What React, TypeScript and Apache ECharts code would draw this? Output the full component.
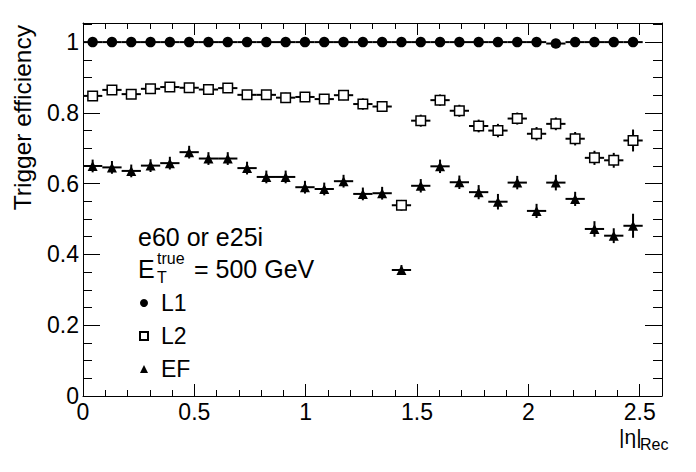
import React, { useEffect, useRef } from "react";
import * as echarts from "echarts";

// |eta| bin centres (30 bins of width 2.6/30, last bin empty)
const binCenters = [
  0.0433, 0.13, 0.2167, 0.3033, 0.39, 0.4767, 0.5633, 0.65, 0.7367, 0.8233,
  0.91, 0.9967, 1.0833, 1.17, 1.2567, 1.3433, 1.43, 1.5167, 1.6033, 1.69,
  1.7767, 1.8633, 1.95, 2.0367, 2.1233, 2.21, 2.2967, 2.3833, 2.47,
];
const binHalfWidth = 0.0433;

const l1Values = [
  1, 1, 1, 1, 1, 1, 1, 1, 1, 1, 1, 1, 1, 1, 1, 1, 1, 1, 1, 1, 1, 1, 1, 1,
  0.996, 1, 1, 1, 1,
];
const l1Errors = [
  0.001, 0.001, 0.001, 0.001, 0.001, 0.001, 0.001, 0.001, 0.001, 0.001,
  0.001, 0.001, 0.001, 0.001, 0.001, 0.001, 0.001, 0.001, 0.001, 0.001,
  0.001, 0.001, 0.001, 0.001, 0.002, 0.001, 0.001, 0.001, 0.001,
];

const l2Values = [
  0.848, 0.865, 0.853, 0.868, 0.873, 0.871, 0.866, 0.87, 0.851, 0.851,
  0.843, 0.845, 0.839, 0.85, 0.825, 0.818, 0.539, 0.778, 0.836, 0.806,
  0.763, 0.75, 0.784, 0.741, 0.769, 0.727, 0.673, 0.666, 0.722,
];
const l2Errors = [
  0.013, 0.013, 0.013, 0.013, 0.013, 0.013, 0.013, 0.013, 0.013, 0.013,
  0.014, 0.014, 0.014, 0.014, 0.016, 0.015, 0.015, 0.017, 0.016, 0.017,
  0.018, 0.019, 0.017, 0.019, 0.018, 0.019, 0.02, 0.021, 0.031,
];

const efValues = [
  0.65, 0.646, 0.636, 0.651, 0.658, 0.689, 0.671, 0.671, 0.644, 0.619,
  0.619, 0.59, 0.585, 0.607, 0.571, 0.573, 0.356, 0.594, 0.649, 0.604,
  0.576, 0.549, 0.603, 0.523, 0.603, 0.557, 0.472, 0.453, 0.481,
];
const efErrors = [
  0.018, 0.018, 0.018, 0.018, 0.018, 0.018, 0.018, 0.018, 0.018, 0.018,
  0.018, 0.018, 0.018, 0.018, 0.018, 0.018, 0.014, 0.019, 0.019, 0.019,
  0.02, 0.022, 0.019, 0.02, 0.022, 0.02, 0.022, 0.021, 0.034,
];

const xMin = 0;
const xMax = 2.6;
const xMajor = 0.5;
const xMinor = 0.1;
const yMin = 0;
const yMax = 1.054;
const yMajor = 0.2;
const yMinor = 0.05;

const FONT = '"Liberation Sans", Arial, Helvetica, sans-serif';

function errData(values: number[], errors: number[]) {
  return values.map((v, i) => [binCenters[i], v, binHalfWidth, errors[i]]);
}
function ptData(values: number[]) {
  return values.map((v, i) => [binCenters[i], v]);
}

const errRender = (params: any, api: any) => {
  const x = api.value(0);
  const y = api.value(1);
  const ex = api.value(2);
  const ey = api.value(3);
  const pL = api.coord([x - ex, y]);
  const pR = api.coord([x + ex, y]);
  const pB = api.coord([x, y - ey]);
  const pT = api.coord([x, y + ey]);
  const st = { stroke: "#000", lineWidth: 2 };
  return {
    type: "group",
    children: [
      { type: "line", shape: { x1: pL[0], y1: pL[1], x2: pR[0], y2: pR[1] }, style: st },
      { type: "line", shape: { x1: pB[0], y1: pB[1], x2: pT[0], y2: pT[1] }, style: st },
    ],
  };
};

function xAxisDef(position: string, interval: number, len: number, labels: boolean, line: boolean) {
  return {
    type: "value",
    position,
    min: xMin,
    max: xMax,
    interval,
    axisLine: { show: line, onZero: false, lineStyle: { color: "#000", width: 1 } },
    axisTick: { show: true, inside: true, length: len, lineStyle: { color: "#000", width: 1 } },
    axisLabel: {
      show: labels,
      margin: 4,
      color: "#000",
      fontSize: 23,
      fontFamily: FONT,
      showMaxLabel: false,
    },
    splitLine: { show: false },
  };
}
function yAxisDef(position: string, interval: number, len: number, labels: boolean, line: boolean) {
  return {
    type: "value",
    position,
    min: yMin,
    max: yMax,
    interval,
    axisLine: { show: line, onZero: false, lineStyle: { color: "#000", width: 1 } },
    axisTick: { show: true, inside: true, length: len, lineStyle: { color: "#000", width: 1 } },
    axisLabel: {
      show: labels,
      margin: 4,
      color: "#000",
      fontSize: 23,
      fontFamily: FONT,
      showMaxLabel: false,
    },
    splitLine: { show: false },
  };
}

function txt(x: number, y: number, text: string, size: number, lh: number) {
  return {
    type: "text",
    x,
    y,
    style: {
      text,
      fontSize: size,
      lineHeight: lh,
      fontFamily: FONT,
      fill: "#000",
      align: "left",
      verticalAlign: "middle",
    },
  };
}

export default function App() {
  const ref = useRef<HTMLDivElement>(null);
  useEffect(() => {
    if (!ref.current) return;
    const chart = echarts.init(ref.current, null, { renderer: "svg" });
    const option: any = {
      animation: false,
      backgroundColor: "#fff",
      grid: { left: 83, right: 34, top: 23, bottom: 76, containLabel: false },
      xAxis: [
        xAxisDef("bottom", xMajor, 12, true, true),
        xAxisDef("bottom", xMinor, 6, false, false),
        xAxisDef("top", xMajor, 12, false, true),
        xAxisDef("top", xMinor, 6, false, false),
      ],
      yAxis: [
        yAxisDef("left", yMajor, 17, true, true),
        yAxisDef("left", yMinor, 9, false, false),
        yAxisDef("right", yMajor, 17, false, true),
        yAxisDef("right", yMinor, 9, false, false),
      ],
      legend: {
        data: ["L1", "L2", "EF"],
        orient: "vertical",
        left: 134,
        top: 286,
        itemWidth: 8,
        itemHeight: 8,
        itemGap: 9,
        selectedMode: false,
        textStyle: {
          fontSize: 23,
          fontFamily: FONT,
          color: "#000",
          lineHeight: 24,
          padding: [0, 0, 0, 8],
        },
      },
      graphic: [
        {
          type: "text",
          x: 22.5,
          y: 25,
          rotation: Math.PI / 2,
          style: {
            text: "Trigger efficiency",
            fontSize: 24.5,
            fontFamily: FONT,
            fill: "#000",
            align: "right",
            verticalAlign: "middle",
          },
        },
        txt(619, 436, "|η|", 21, 20),
        txt(640, 444, "Rec", 16, 14),
        txt(138, 236.5, "e60 or e25i", 25, 21),
        txt(138, 268.5, "E", 25, 21),
        txt(157, 258, "true", 16, 12),
        txt(157, 277.5, "T", 16, 14),
        txt(194, 268.5, "= 500 GeV", 25, 21),
      ],
      series: [
        { type: "custom", name: "L1 err", renderItem: errRender, data: errData(l1Values, l1Errors), encode: { x: 0, y: 1 }, z: 2, silent: true },
        { type: "custom", name: "L2 err", renderItem: errRender, data: errData(l2Values, l2Errors), encode: { x: 0, y: 1 }, z: 2, silent: true },
        { type: "custom", name: "EF err", renderItem: errRender, data: errData(efValues, efErrors), encode: { x: 0, y: 1 }, z: 2, silent: true },
        {
          type: "scatter",
          name: "L1",
          data: ptData(l1Values),
          symbol: "circle",
          symbolSize: 10.5,
          itemStyle: { color: "#000", opacity: 1 },
          z: 3,
        },
        {
          type: "scatter",
          name: "L2",
          data: ptData(l2Values),
          symbol: "rect",
          symbolSize: 9.5,
          itemStyle: { color: "#fff", borderColor: "#000", borderWidth: 1.5, opacity: 1 },
          z: 3,
        },
        {
          type: "scatter",
          name: "EF",
          data: ptData(efValues),
          symbol: "triangle",
          symbolSize: [10, 10],
          itemStyle: { color: "#000", opacity: 1 },
          z: 3,
        },
      ],
    };
    chart.setOption(option);
    return () => chart.dispose();
  }, []);
  return (
    <div
      ref={ref}
      style={{ position: "fixed", left: 0, top: 0, width: 696, height: 472, background: "#fff" }}
    />
  );
}
